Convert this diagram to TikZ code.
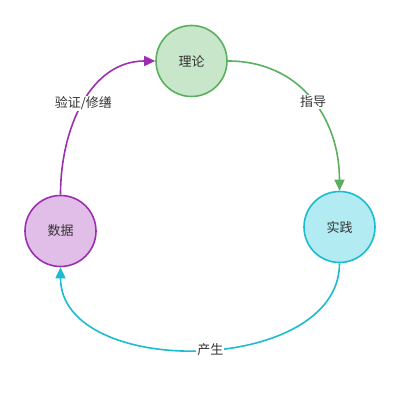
\documentclass[tikz,border=0pt]{standalone}
\usepackage{fontspec}
\newfontfamily\cjk{Noto Sans CJK SC}
\usetikzlibrary{arrows.meta}

\definecolor{lilunline}{HTML}{5AB05E}
\definecolor{lilunfill}{HTML}{C8E6C9}
\definecolor{shijianline}{HTML}{1DBBCF}
\definecolor{shijianfill}{HTML}{B2EBF2}
\definecolor{shujuline}{HTML}{9C2FB0}
\definecolor{shujufill}{HTML}{E1BEE7}

\begin{document}
\begin{tikzpicture}[x=1pt,y=1pt,
  topic/.style={circle, minimum size=71pt, inner sep=0pt, line width=1.6pt, text=black!80, font=\cjk\fontsize{13}{15}\selectfont},
  link/.style={line width=1.6pt, -{Triangle[length=11pt,width=10pt]}},
  tag/.style={fill=white, inner sep=1pt, text=black!80, font=\cjk\fontsize{13}{15}\selectfont}]
\useasboundingbox (0,0) rectangle (400,403);

\node [topic, draw=lilunline, fill=lilunfill] (lilun) at (191.5,342) {理论};
\node [topic, draw=shijianline, fill=shijianfill] (shijian) at (339.5,176) {实践};
\node [topic, draw=shujuline, fill=shujufill] (shuju) at (60.5,172) {数据};

\draw [link, lilunline] (lilun.east) to[out=0,in=90,looseness=1.08] node[tag, pos=0.52] {指导} (shijian.north);
\draw [link, shijianline] (shijian.south) to[out=-90,in=-90,looseness=1.03] node[tag, pos=0.475] {产生} (shuju.south);
\draw [link, shujuline] (shuju.north) to[out=90,in=180,looseness=1.02] node[tag, pos=0.5] {验证/修缮} (lilun.west);
\end{tikzpicture}
\end{document}
